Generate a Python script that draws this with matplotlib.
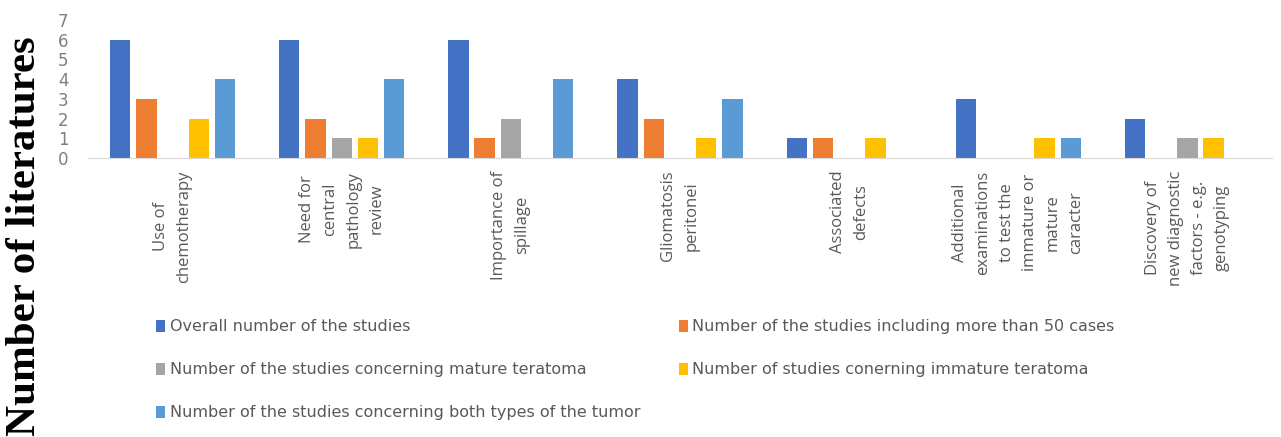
import matplotlib
matplotlib.use('Agg')
import matplotlib.pyplot as plt
import numpy as np

categories = [
    "Use of\nchemotherapy",
    "Need for\ncentral\npathology\nreview",
    "Importance of\nspillage",
    "Gliomatosis\nperitonei",
    "Associated\ndefects",
    "Additional\nexaminations\nto test the\nimmature or\nmature\ncaracter",
    "Discovery of\nnew diagnostic\nfactors - e.g.\ngenotyping",
]

series_names = [
    "Overall number of the studies",
    "Number of the studies including more than 50 cases",
    "Number of the studies concerning mature teratoma",
    "Number of studies conerning immature teratoma",
    "Number of the studies concerning both types of the tumor",
]

overall = [6, 6, 6, 4, 1, 3, 2]
over_50 = [3, 2, 1, 2, 1, 0, 0]
mature = [0, 1, 2, 0, 0, 0, 1]
immature = [2, 1, 0, 1, 1, 1, 1]
both_types = [4, 4, 4, 3, 0, 1, 0]

colors = ['#4472C4', '#ED7D31', '#A5A5A5', '#FFC000', '#5B9BD5']
text_grey = '#595959'


def plot_chart():
    fig = plt.figure(figsize=(12.81, 4.37), dpi=100)
    ax = fig.add_axes([88 / 1281, 1 - 158 / 437, (1272 - 88) / 1281, (158 - 20) / 437])

    x = np.arange(len(categories))
    width = 0.12
    step = 0.155
    all_series = [overall, over_50, mature, immature, both_types]
    bars = []
    for i, (vals, col) in enumerate(zip(all_series, colors)):
        b = ax.bar(x + (i - 2) * step, vals, width, color=col, label=series_names[i])
        bars.append(b)

    ax.set_xlim(-0.5, len(categories) - 0.5)
    ax.set_ylim(0, 7)
    ax.set_yticks(range(0, 8))
    ax.tick_params(axis='y', length=0, labelsize=12, labelcolor='#7F7F7F', pad=14)
    ax.set_xticks(x)
    ax.set_xticklabels(categories, rotation=90, ha='center', va='top',
                       multialignment='center', linespacing=1.6,
                       fontsize=12, color=text_grey, family='Open Sans')
    ax.tick_params(axis='x', length=0, pad=9)
    for side in ['top', 'right', 'left']:
        ax.spines[side].set_visible(False)
    ax.spines['bottom'].set_color('#D9D9D9')

    fig.text(25 / 1281, 1 - 236 / 437, "Number of literatures", rotation=90,
             ha='center', va='center', fontsize=31, fontweight='bold',
             family='Liberation Serif')

    # legend fills column-wise, so reorder to read row by row
    order = [0, 2, 4, 1, 3]
    leg = fig.legend([bars[i] for i in order], [series_names[i] for i in order],
                     loc='upper left', bbox_to_anchor=(142 / 1281, 1 - 305 / 437),
                     ncol=2, frameon=False, handlelength=0.55, handleheight=0.8,
                     handletextpad=0.3, labelspacing=1.75, columnspacing=2.4,
                     prop={'family': 'DejaVu Sans', 'size': 11.5})
    for t in leg.get_texts():
        t.set_color(text_grey)

    fig.savefig('out.png', dpi=100)


if __name__ == '__main__':
    plot_chart()
